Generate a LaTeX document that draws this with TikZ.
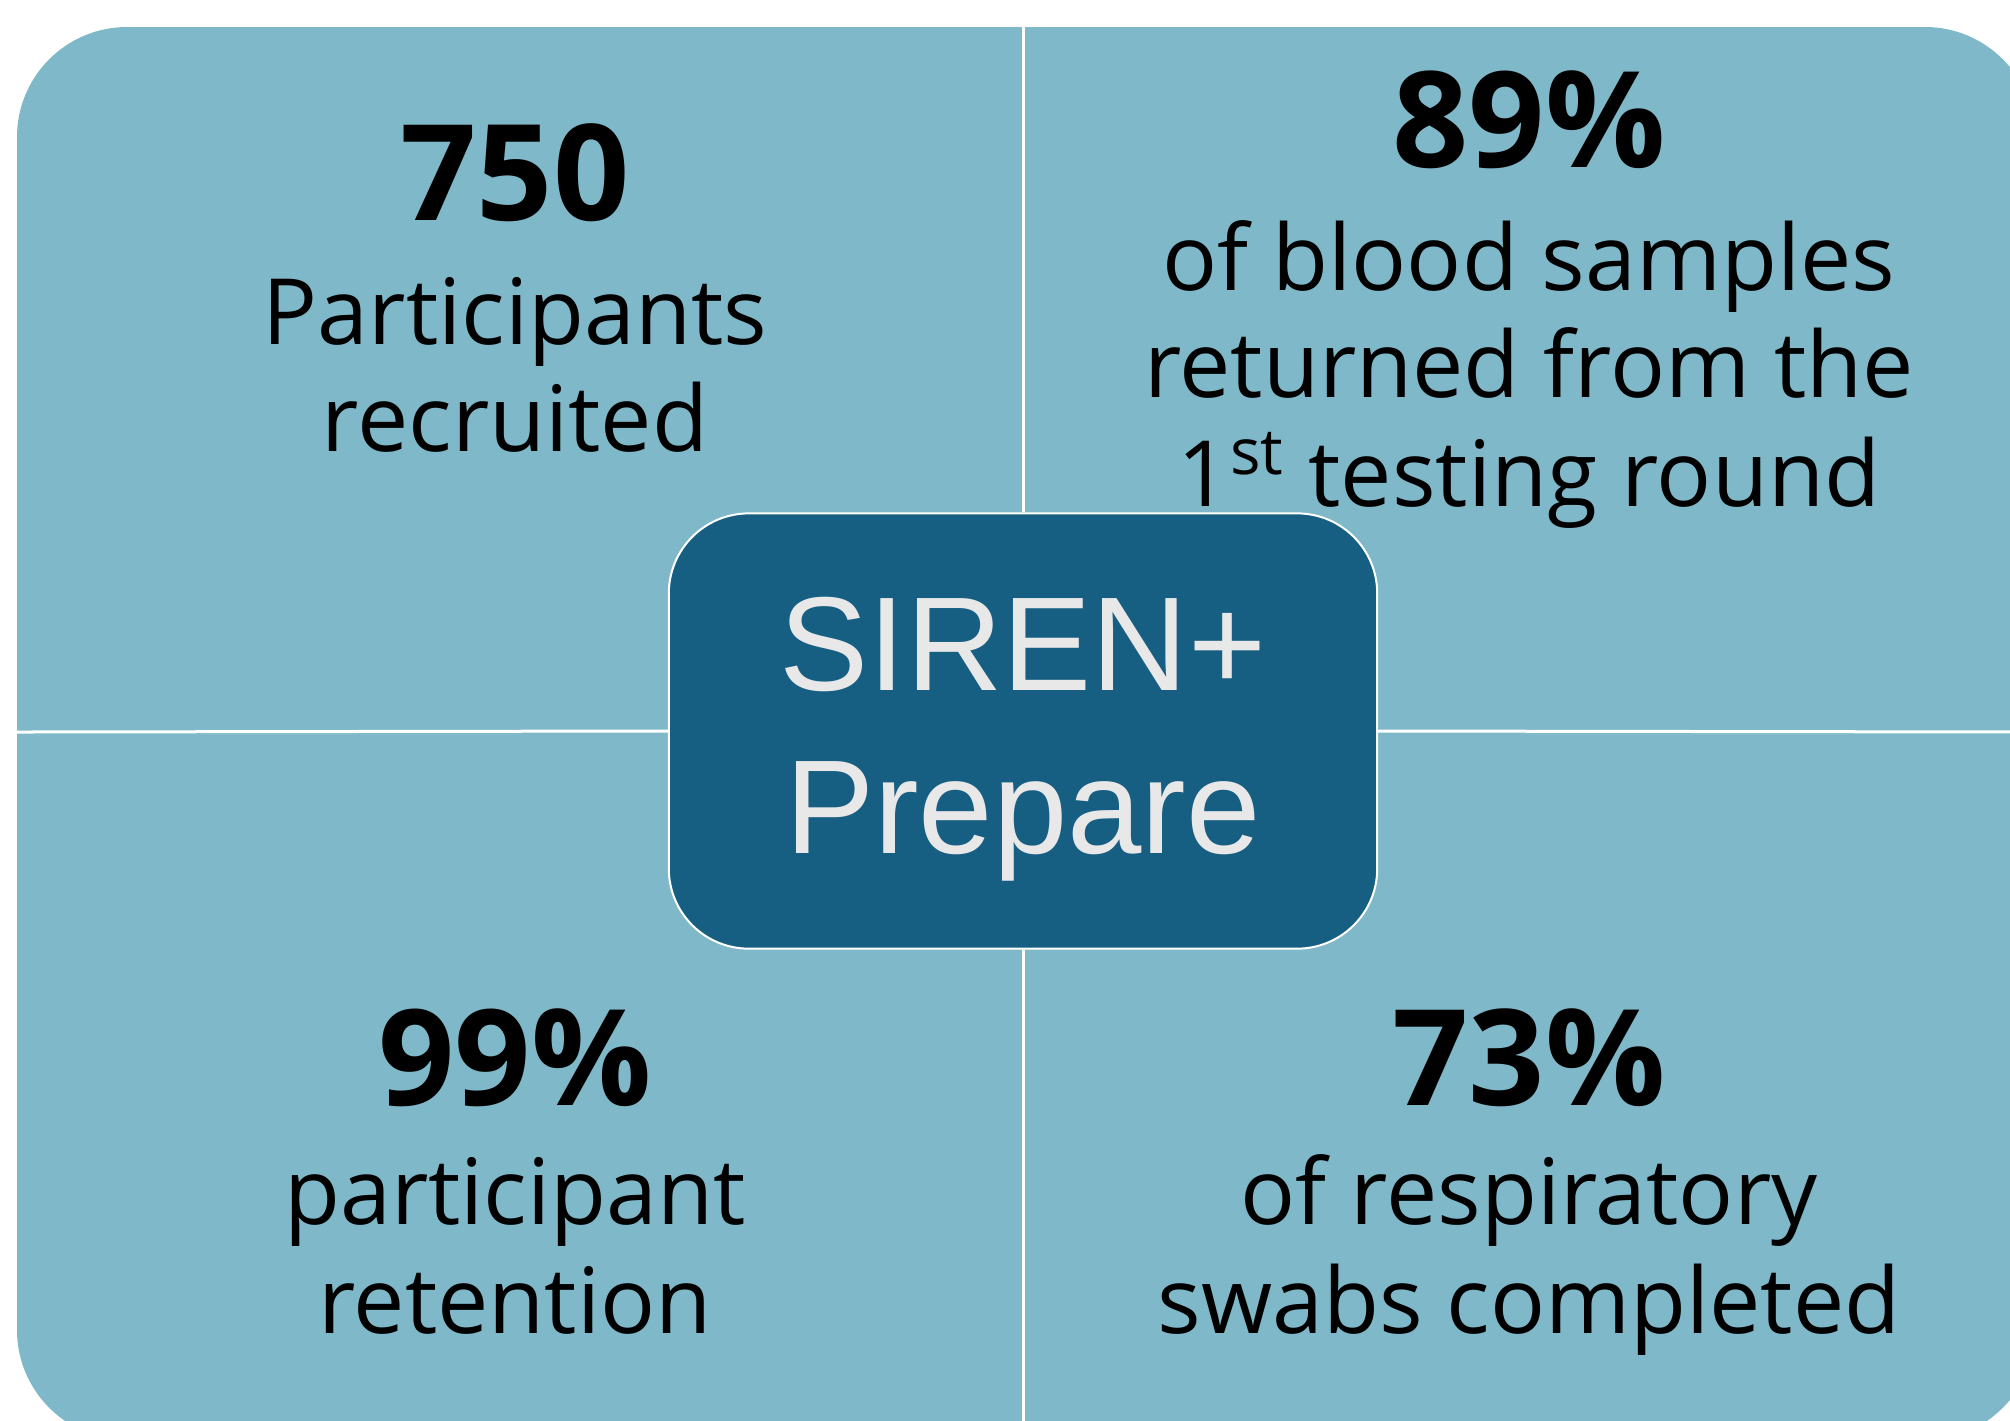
\documentclass[tikz,border=0pt]{standalone}
\usepackage{fontspec}
\setmainfont{Open Sans}
\newfontfamily\hubfont{Liberation Sans}
\definecolor{panelblue}{HTML}{7FB8C9}
\definecolor{hubblue}{HTML}{175F82}
\definecolor{hubtext}{HTML}{E8E8E8}
\begin{document}
\begin{tikzpicture}[x=0.01cm,y=-0.01cm,
  bignum/.style={anchor=base,inner sep=0pt,font=\fontsize{38}{42}\selectfont\bfseries},
  txt/.style={anchor=base,inner sep=0pt,font=\fontsize{26}{31}\selectfont},
  hubtxt/.style={anchor=base,inner sep=0pt,text=hubtext,font=\hubfont\fontsize{38}{46}\selectfont},
  divider/.style={white,line width=0.03cm}]
\useasboundingbox (0,0) rectangle (2010,1420);
\clip (0,0) rectangle (2010,1420);
% panel
\fill [panelblue,rounded corners=1.1cm] (17,27) rectangle (2035,1440);
\coordinate (top) at (1023,27);
\coordinate (bot) at (1023,1440);
\coordinate (lft) at (17,732);
\coordinate (rgt) at (2035,732);
% centre box
\node (hub) [draw=white,line width=0.02cm,fill=hubblue,rounded corners=0.8cm,
  minimum width=7.08cm,minimum height=4.35cm] at (1023,731) {};
\draw [divider] (hub.north) -- (top);
\draw [divider] (hub.south) -- (bot);
\draw [divider] (hub.west) -- (lft);
\draw [divider] (hub.east) -- (rgt);
\node (hubA) [hubtxt] at (1023,690) {SIREN+};
\node (hubB) [hubtxt] at (1023,853) {Prepare};
% top left
\node (numA) [bignum] at (515,220) {750};
\node (txtA1) [txt] at (515,344) {Participants};
\node (txtA2) [txt] at (515,451) {recruited};
% top right
\node (numB) [bignum] at (1529,167) {89\%};
\node (txtB1) [txt] at (1529,290) {of blood samples};
\node (txtB2) [txt] at (1529,397) {returned from the};
\node (txtB3) [txt] at (1529,506) {1\textsuperscript{st} testing round};
% bottom left
\node (numC) [bignum] at (515,1105) {99\%};
\node (txtC1) [txt] at (515,1224) {participant};
\node (txtC2) [txt] at (515,1333) {retention};
% bottom right
\node (numD) [bignum] at (1529,1105) {73\%};
\node (txtD1) [txt] at (1529,1224) {of respiratory};
\node (txtD2) [txt] at (1529,1333) {swabs completed};
\end{tikzpicture}
\end{document}
